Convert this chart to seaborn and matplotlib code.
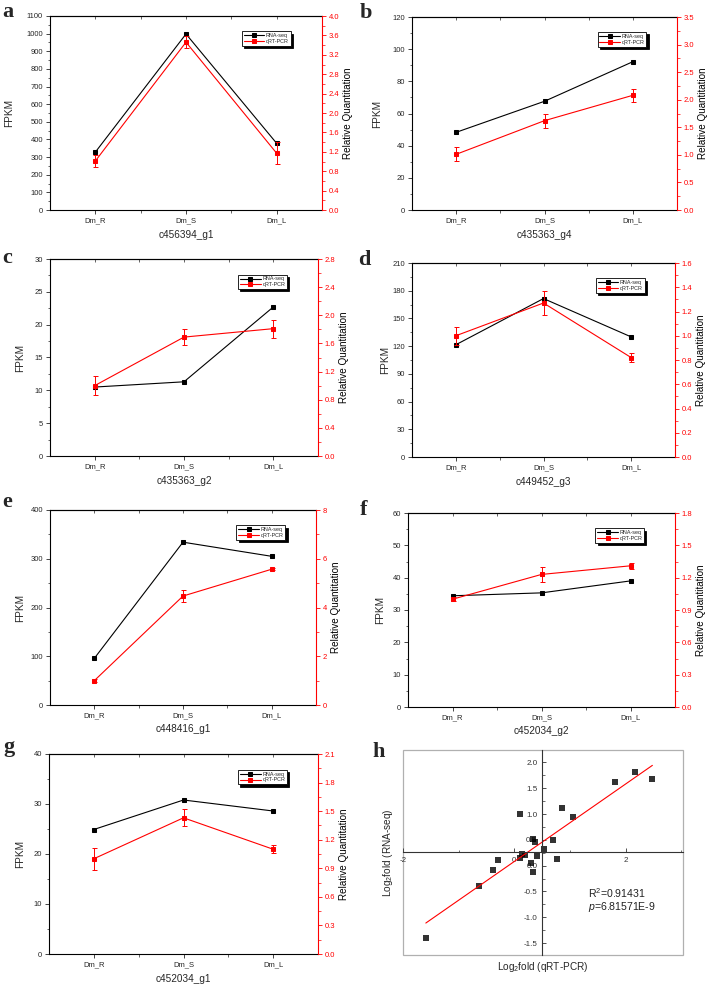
#! /usr/bin/env python3
import numpy as np
import pandas as pd
import seaborn as sns
import matplotlib
matplotlib.use('Agg')
import matplotlib.pyplot as plt
from matplotlib.ticker import (MultipleLocator, AutoMinorLocator,
                               FormatStrFormatter, FixedLocator)
from matplotlib.patches import Rectangle

# Samples on the x axis of panels a-g
SAMPLES = ['Dm_R', 'Dm_S', 'Dm_L']
LEGEND_LABELS = ['RNA-seq', 'qRT-PCR']

# a
gene_a = 'c456394_g1'
fpkm_a = [328, 998, 378]
rq_a = [1.01, 3.46, 1.17]
rq_err_a = [0.12, 0.12, 0.23]
# b
gene_b = 'c435363_g4'
fpkm_b = [48.3, 67.6, 92.2]
rq_b = [1.01, 1.62, 2.08]
rq_err_b = [0.13, 0.13, 0.12]
# c
gene_c = 'c435363_g2'
fpkm_c = [10.5, 11.3, 22.7]
rq_c = [1.0, 1.69, 1.81]
rq_err_c = [0.13, 0.11, 0.13]
# d
gene_d = 'c449452_g3'
fpkm_d = [121.5, 171.5, 130.0]
rq_d = [1.0, 1.27, 0.82]
rq_err_d = [0.075, 0.10, 0.035]
# e
gene_e = 'c448416_g1'
fpkm_e = [95.7, 334, 305]
rq_e = [1.0, 4.47, 5.57]
rq_err_e = [0.06, 0.25, 0.05]
# f
gene_f = 'c452034_g2'
fpkm_f = [34.4, 35.3, 39.0]
rq_f = [1.0, 1.23, 1.31]
rq_err_f = [0.02, 0.066, 0.03]
# g
gene_g = 'c452034_g1'
fpkm_g = [24.9, 30.8, 28.6]
rq_g = [1.0, 1.43, 1.10]
rq_err_g = [0.117, 0.09, 0.04]

# h: log2 fold changes, qRT-PCR vs RNA-seq
log2_qpcr = [-1.59, -0.63, -0.38, -0.29, 0.10, 0.10, 0.14, 0.20, 0.30, 0.33, 0.34,
             0.37, 0.40, 0.53, 0.70, 0.76, 0.86, 1.06, 1.80, 2.17, 2.48]
log2_rnaseq = [-1.41, -0.39, -0.09, 0.11, 1.01, 0.15, 0.22, 0.21, 0.05, -0.12, 0.52,
               0.46, 0.19, 0.32, 0.50, 0.12, 1.12, 0.95, 1.62, 1.81, 1.68]

RED = '#ff0000'
W, H = 709, 988


def rect(x0, y0, x1, y1):
    # pixel box -> figure fraction
    return [x0 / W, 1 - y1 / H, (x1 - x0) / W, (y1 - y0) / H]


def draw_panel(ax, gene, fpkm, rq, rq_err, left_max, left_step, right_max, right_step,
               right_fmt, ylab_x):
    df = pd.DataFrame({'sample': SAMPLES, 'fpkm': fpkm, 'rq': rq, 'err': rq_err})
    ax2 = ax.twinx()
    sns.lineplot(data=df, x='sample', y='fpkm', ax=ax, color='black', marker='s',
                 markersize=2.8, markeredgecolor='black', linewidth=0.8, sort=False,
                 legend=False)
    sns.lineplot(data=df, x='sample', y='rq', ax=ax2, color=RED, marker='s',
                 markersize=2.8, markeredgecolor=RED, linewidth=0.8, sort=False,
                 legend=False)
    ax2.errorbar(df['sample'], df['rq'], yerr=df['err'], fmt='none', ecolor=RED,
                 elinewidth=0.7, capsize=1.8, capthick=0.7)

    ax.set_xlim(-0.5, 2.5)
    ax.set_ylim(0, left_max)
    ax2.set_ylim(0, right_max)
    ax.yaxis.set_major_locator(MultipleLocator(left_step))
    ax2.yaxis.set_major_locator(MultipleLocator(right_step))
    ax.yaxis.set_minor_locator(AutoMinorLocator(2))
    ax2.yaxis.set_minor_locator(AutoMinorLocator(2))
    ax.yaxis.set_major_formatter(FormatStrFormatter('%d'))
    ax2.yaxis.set_major_formatter(FormatStrFormatter(right_fmt))
    ax.xaxis.set_minor_locator(FixedLocator([0.5, 1.5]))

    ax.tick_params(which='major', length=3, width=0.6, labelsize=5.5, pad=2)
    ax.tick_params(which='minor', length=1.8, width=0.5)
    ax2.tick_params(axis='y', which='major', length=3, width=0.6, labelsize=5.5,
                    pad=2, colors=RED)
    ax2.tick_params(axis='y', which='minor', length=1.8, width=0.5, colors=RED)

    top = ax.secondary_xaxis('top')
    top.xaxis.set_major_locator(FixedLocator([0, 1, 2]))
    top.xaxis.set_minor_locator(FixedLocator([0.5, 1.5]))
    top.tick_params(which='both', direction='in', labeltop=False, length=2, width=0.5)
    top.spines['top'].set_linewidth(0.8)

    for side in ['left', 'bottom', 'top']:
        ax.spines[side].set_linewidth(0.8)
        ax.spines[side].set_color('black')
        ax2.spines[side].set_visible(False)
    ax.spines['right'].set_visible(False)
    ax2.spines['right'].set_color(RED)
    ax2.spines['right'].set_linewidth(0.8)

    ax.set_xlabel(gene, fontsize=7.2, labelpad=4)
    ax.set_ylabel('FPKM', fontsize=7.2)
    ax.yaxis.set_label_coords(ylab_x, 0.5)
    ax2.set_ylabel('Relative Quantitation', fontsize=7.1, labelpad=2.5, color='black')

    leg = ax2.legend([ax.lines[0], ax2.lines[0]], LEGEND_LABELS, loc='upper right',
                     bbox_to_anchor=(0.895, 0.935), fontsize=3.9, handlelength=3.8,
                     handletextpad=0.3, borderpad=0.35, labelspacing=0.15,
                     fancybox=False, framealpha=1, edgecolor='black',
                     shadow={'color': 'black', 'alpha': 1, 'ox': 1.6, 'oy': -1.6})
    leg.get_frame().set_linewidth(0.6)


def main():
    sns.set_style('ticks')
    plt.rcParams['font.family'] = ['Liberation Sans', 'DejaVu Sans']
    plt.rcParams['mathtext.fontset'] = 'custom'
    plt.rcParams['mathtext.rm'] = 'Liberation Sans'
    plt.rcParams['mathtext.it'] = 'Liberation Sans:italic'

    fig = plt.figure(figsize=(W / 100, H / 100), dpi=100)

    panels = [
        (rect(50, 16, 322, 210), gene_a, fpkm_a, rq_a, rq_err_a, 1100, 100, 4.0, 0.4, '%.1f', -0.132),
        (rect(412, 17, 677, 210), gene_b, fpkm_b, rq_b, rq_err_b, 120, 20, 3.5, 0.5, '%.1f', -0.113),
        (rect(50, 259, 318, 456), gene_c, fpkm_c, rq_c, rq_err_c, 30, 5, 2.8, 0.4, '%.1f', -0.093),
        (rect(412, 263, 675, 457), gene_d, fpkm_d, rq_d, rq_err_d, 210, 30, 1.6, 0.2, '%.1f', -0.084),
        (rect(50, 510, 316, 705), gene_e, fpkm_e, rq_e, rq_err_e, 400, 100, 8, 2, '%d', -0.094),
        (rect(408, 513, 675, 707), gene_f, fpkm_f, rq_f, rq_err_f, 60, 10, 1.8, 0.3, '%.1f', -0.086),
        (rect(49, 754, 318, 954), gene_g, fpkm_g, rq_g, rq_err_g, 40, 10, 2.1, 0.3, '%.1f', -0.089),
    ]
    for spec in panels:
        ax = fig.add_axes(spec[0])
        draw_panel(ax, *spec[1:])

    # h: correlation of log2 fold changes
    axh = fig.add_axes(rect(403, 750, 683, 955))
    sns.regplot(x=log2_qpcr, y=log2_rnaseq, ax=axh, ci=None, truncate=True, marker='s',
                scatter_kws={'s': 13, 'color': 'black', 'linewidths': 0},
                line_kws={'color': RED, 'linewidth': 0.8})
    axh.set_xlim(-2, 3.03)
    axh.set_ylim(-1.73, 2.24)
    axh.spines['left'].set_position(('data', 0.5))
    axh.spines['bottom'].set_position(('data', 0.26))
    axh.spines['top'].set_visible(False)
    axh.spines['right'].set_visible(False)
    for side in ['left', 'bottom']:
        axh.spines[side].set_linewidth(0.8)
        axh.spines[side].set_color('#333333')
    axh.add_patch(Rectangle((0, 0), 1, 1, transform=axh.transAxes, fill=False,
                            edgecolor='#b0b0b0', linewidth=0.9, clip_on=False, zorder=0))
    axh.xaxis.set_major_locator(FixedLocator([-2, 0, 2]))
    axh.xaxis.set_minor_locator(FixedLocator([-1, 1, 3]))
    axh.yaxis.set_major_locator(MultipleLocator(0.5))
    axh.yaxis.set_minor_locator(MultipleLocator(0.25))
    axh.xaxis.set_major_formatter(FormatStrFormatter('%d'))
    axh.yaxis.set_major_formatter(FormatStrFormatter('%.1f'))
    axh.tick_params(which='major', direction='in', length=3, width=0.6, labelsize=5.8,
                    colors='#333333')
    axh.tick_params(which='minor', direction='in', length=1.8, width=0.5, colors='#333333')
    axh.set_xlabel('Log$_2$fold (qRT-PCR)', fontsize=7.2)
    axh.set_ylabel('Log$_2$fold (RNA-seq)', fontsize=7.2)
    axh.xaxis.set_label_coords(0.5, -0.022)
    axh.yaxis.set_label_coords(-0.03, 0.5)
    axh.text(0.66, 0.30, 'R$^2$=0.91431', transform=axh.transAxes, fontsize=7.6,
             va='center', ha='left', color='#222222')
    axh.text(0.66, 0.234, '$p$=6.81571E-9', transform=axh.transAxes, fontsize=7.6,
             va='center', ha='left', color='#222222')

    # panel letters
    letters = ['a', 'b', 'c', 'd', 'e', 'f', 'g', 'h']
    letter_pos = [(2, 17), (360, 18), (2, 263), (358, 265), (2, 507), (360, 515),
                  (3, 752), (372, 757)]
    for letter, (px, py) in zip(letters, letter_pos):
        fig.text(px / W, 1 - py / H, letter, fontsize=16, fontweight='bold',
                 family='Liberation Serif', va='baseline', ha='left')

    fig.savefig('out.png', dpi=100)


if __name__ == "__main__":
    main()
